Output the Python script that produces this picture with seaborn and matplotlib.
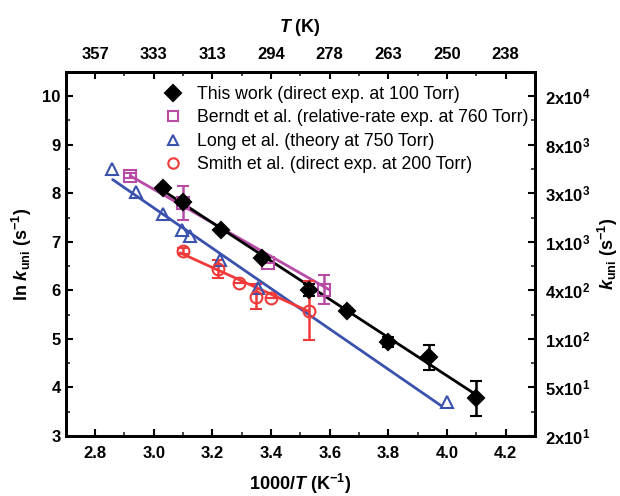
import numpy as np
import matplotlib
matplotlib.use("Agg")
import matplotlib.pyplot as plt
import seaborn as sns
from matplotlib.ticker import MultipleLocator

# this work (direct exp. at 100 Torr)
this_x = [3.03, 3.10, 3.23, 3.37, 3.53, 3.66, 3.80, 3.94, 4.10]
this_y = [8.10, 7.81, 7.24, 6.67, 6.01, 5.58, 4.94, 4.62, 3.78]
this_err = [0.05, 0.05, 0.05, 0.05, 0.12, 0.05, 0.10, 0.26, 0.36]

# Berndt et al.
berndt_x = [2.92, 3.10, 3.39, 3.58]
berndt_y = [8.36, 7.80, 6.56, 6.01]
berndt_err = [0.05, 0.36, 0.0, 0.30]

# Long et al. (theory)
long_x = [2.857, 2.94, 3.03, 3.096, 3.125, 3.226, 3.356, 4.0]
long_y = [8.49, 8.02, 7.57, 7.24, 7.12, 6.63, 6.05, 3.70]

# Smith et al.
smith_x = [3.10, 3.22, 3.29, 3.35, 3.40, 3.53]
smith_y = [6.81, 6.44, 6.15, 5.87, 5.85, 5.58]
smith_err = [0.06, 0.18, 0.0, 0.26, 0.0, 0.61]

# linear fits: (slope, intercept, x from, x to)
fit_this = (-3.94, 20.00, 3.02, 4.11)
fit_berndt = (-3.456, 18.45, 2.92, 3.60)
fit_long = (-4.16, 20.18, 2.86, 3.98)
fit_smith = (-2.75, 15.27, 3.09, 3.53)

labels = ["This work (direct exp. at 100 Torr)",
          "Berndt et al. (relative-rate exp. at 760 Torr)",
          "Long et al. (theory at 750 Torr)",
          "Smith et al. (direct exp. at 200 Torr)"]
colors = ["black", "#B84BA6", "#3A52AE", "#F03A3A"]

sns.set_theme(style="ticks")
plt.rcParams["font.family"] = ["Liberation Sans", "DejaVu Sans"]
plt.rcParams["text.color"] = "black"
plt.rcParams["axes.labelcolor"] = "black"
plt.rcParams["mathtext.fontset"] = "custom"
plt.rcParams["mathtext.rm"] = "Liberation Sans:bold"
plt.rcParams["mathtext.it"] = "Liberation Sans:italic:bold"
plt.rcParams["mathtext.bf"] = "Liberation Sans:bold"

fig, ax = plt.subplots(figsize=(6.2, 4.96), dpi=100)
fig.subplots_adjust(left=0.106, right=0.863, bottom=0.121, top=0.855)

fits = [fit_this, fit_berndt, fit_long, fit_smith]
order = [2, 3, 1, 0]
for i in order:
    m, b, x0, x1 = fits[i]
    xs = np.array([x0, x1])
    sns.lineplot(x=xs, y=m * xs + b, color=colors[i], lw=2, ax=ax, legend=False)

sets = [(this_x, this_y, this_err, "D", True),
        (berndt_x, berndt_y, berndt_err, "s", False),
        (long_x, long_y, None, "^", False),
        (smith_x, smith_y, smith_err, "o", False)]
for i in order:
    x, y, e, mk, filled = sets[i]
    fc = colors[i] if filled else "none"
    ms = 8 if mk == "D" else 8.5
    ax.errorbar(x, y, yerr=e, fmt=mk, color=colors[i], mfc=fc, mec=colors[i],
                ms=ms, mew=1.5, elinewidth=1.8, capsize=4, capthick=1.8, zorder=3 + (i == 0))

# legend uses plain markers
leg_h = []
for i in range(4):
    x, y, e, mk, filled = sets[i]
    fc = colors[i] if filled else "none"
    leg_h.append(plt.Line2D([], [], ls="none", marker=mk, color=colors[i], mfc=fc,
                            mec=colors[i], ms=7.5 if mk != "D" else 8.5, mew=1.5))
ax.legend(leg_h, labels, loc="upper left", bbox_to_anchor=(0.165, 0.995), frameon=False,
          fontsize=12.7, handletextpad=0.35, labelspacing=0.36, borderpad=0.2,
          labelcolor="black")

ax.set_xlim(2.7, 4.3)
ax.set_ylim(3, 10.5)
ax.xaxis.set_major_locator(MultipleLocator(0.2))
ax.xaxis.set_minor_locator(MultipleLocator(0.1))
ax.yaxis.set_major_locator(MultipleLocator(1))
ax.yaxis.set_minor_locator(MultipleLocator(0.5))
ax.xaxis.set_major_formatter(matplotlib.ticker.FormatStrFormatter("%.1f"))
ax.set_xlabel(r"1000/$T$ (K$^{-1}$)", fontsize=13, fontweight="bold", labelpad=8)
ax.set_ylabel(r"ln $k_\mathrm{uni}$ (s$^{-1}$)", fontsize=13, fontweight="bold", labelpad=6)

# top axis in temperature
top = ax.twiny()
top.set_xlim(ax.get_xlim())
top_ticks = np.arange(2.8, 4.21, 0.2)
top.set_xticks(top_ticks)
top.set_xticklabels([str(int(1000 / t + 0.5)) for t in top_ticks])
top.xaxis.set_minor_locator(MultipleLocator(0.1))
top.set_xlabel(r"$T$ (K)", fontsize=13, fontweight="bold", labelpad=11)

# right axis in k_uni
right = ax.twinx()
right.set_ylim(ax.get_ylim())
r_ticks = np.arange(3, 11)
right.set_yticks(r_ticks)
def sci(v):
    k = np.exp(v)
    p = int(np.floor(np.log10(k)))
    mant = int(round(k / 10 ** p))
    return r"%dx10$^{%d}$" % (mant, p)
right.set_yticklabels([sci(v) for v in r_ticks])
right.yaxis.set_minor_locator(MultipleLocator(0.5))
right.set_ylabel(r"$k_\mathrm{uni}$ (s$^{-1}$)", fontsize=13, fontweight="bold", labelpad=4)

for a in (ax, top, right):
    for s in a.spines.values():
        s.set_linewidth(1.8)
        s.set_color("black")
    a.tick_params(which="major", direction="in", length=5, width=1.5, labelsize=12, colors="black")
    a.tick_params(which="minor", direction="in", length=3, width=1.2)
    for lab in a.get_xticklabels() + a.get_yticklabels():
        lab.set_fontweight("bold")
ax.tick_params(axis="both", which="both", top=False, right=False)
ax.tick_params(axis="x", pad=7)
top.tick_params(axis="x", which="both", bottom=False, pad=7)
right.tick_params(axis="y", which="both", left=False, pad=7)

fig.savefig("out.png", dpi=100)
